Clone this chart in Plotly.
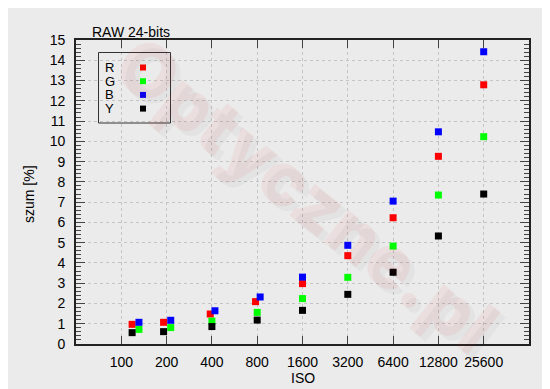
import math
import plotly.graph_objects as go

# ---- data ----
iso_ticks = [100, 200, 400, 800, 1600, 3200, 6400, 12800, 25600]
iso_labels = ["100", "200", "400", "800", "1600", "3200", "6400", "12800", "25600"]

series_names = ["R", "G", "B", "Y"]
series_colors = ["#ff0000", "#00ff00", "#0000ff", "#000000"]

iso_R = [118, 191, 390, 780, 1600, 3200, 6400, 12800, 25600]
iso_G = [131, 213, 400, 800, 1600, 3200, 6400, 12800, 25600]
iso_B = [131, 213, 419, 837, 1600, 3200, 6400, 12800, 25600]
iso_Y = [118, 191, 400, 800, 1600, 3200, 6400, 12800, 25600]

noise_R = [0.97, 1.07, 1.48, 2.09, 2.98, 4.36, 6.23, 9.26, 12.79]
noise_G = [0.72, 0.81, 1.13, 1.56, 2.24, 3.29, 4.83, 7.35, 10.23]
noise_B = [1.07, 1.17, 1.64, 2.32, 3.30, 4.87, 7.05, 10.47, 14.42]
noise_Y = [0.56, 0.61, 0.86, 1.18, 1.66, 2.45, 3.54, 5.33, 7.40]

title_text = "RAW 24-bits"
x_title = "ISO"
y_title = "szum [%]"
watermark = "Optyczne.pl"

xs = [iso_R, iso_G, iso_B, iso_Y]
ys = [noise_R, noise_G, noise_B, noise_Y]

FONT = "Liberation Sans, Arial, Helvetica, sans-serif"
BG = "#ebebeb"
AXC = "#222222"
GRID = "#c4c4c4"

# page body has an 8px margin: shrink figure to compensate
OFF = 8
W, H = 550 - OFF, 389 - OFF
# plot area in window pixels: left 76, right 529, top 40, bottom 344
L, T = 76 - OFF, 40 - OFF
R = 550 - 529
B = 389 - 344
PW, PH = W - L - R, H - T - B


def px2paper(px, py):
    # px, py in window (reference) pixel coordinates
    return (px - OFF - L) / PW, (H - B - (py - OFF)) / PH


fig = go.Figure()
for name, col, x, y in zip(series_names, series_colors, xs, ys):
    fig.add_trace(go.Scatter(
        x=x, y=y, mode="markers", name=name,
        marker=dict(symbol="square", size=7, color=col, line=dict(width=0)),
        showlegend=False,
    ))

annotations = []
shapes = []

# watermark (shadow + main)
for dx, dy, c in [(5, 5, "rgba(0,0,0,0.03)"), (0, 0, "rgba(225,40,40,0.065)")]:
    ax_, ay_ = px2paper(306 + dx, 194 + dy)
    annotations.append(dict(
        text=watermark, x=ax_, y=ay_, xref="paper", yref="paper",
        showarrow=False, textangle=38, xanchor="center", yanchor="middle",
        font=dict(family="Inter, DejaVu Sans, Arial", size=74, color=c, weight=900),
    ))

# title
tx, ty = px2paper(90, 32)
annotations.append(dict(text=title_text, x=tx, y=ty, xref="paper", yref="paper",
                        showarrow=False, xanchor="left", yanchor="middle",
                        font=dict(family=FONT, size=14, color="black")))
# axis titles
ix, iy = px2paper(303, 378)
annotations.append(dict(text=x_title, x=ix, y=iy, xref="paper", yref="paper",
                        showarrow=False, xanchor="center", yanchor="middle",
                        font=dict(family=FONT, size=14, color="black")))
sx, sy = px2paper(29, 194)
annotations.append(dict(text=y_title, x=sx, y=sy, xref="paper", yref="paper",
                        showarrow=False, textangle=-90, xanchor="center", yanchor="middle",
                        font=dict(family=FONT, size=14, color="black")))

# legend box
bx0, by0 = px2paper(98.5, 52.5)
bx1, by1 = px2paper(170.5, 123)
shapes.append(dict(type="rect", xref="paper", yref="paper", x0=bx0, x1=bx1, y0=by1, y1=by0,
                   line=dict(color="#333333", width=1), fillcolor="rgba(0,0,0,0)"))
for i, (name, col) in enumerate(zip(series_names, series_colors)):
    py = 67.5 + i * 13.7
    lx, ly = px2paper(109.5, py)
    annotations.append(dict(text=name, x=lx, y=ly, xref="paper", yref="paper",
                            showarrow=False, xanchor="center", yanchor="middle",
                            font=dict(family=FONT, size=13, color="black")))
    mx, my = px2paper(143, py)
    shapes.append(dict(type="rect", xref="paper", yref="paper",
                       xsizemode="pixel", ysizemode="pixel", xanchor=mx, yanchor=my,
                       x0=-3, x1=3, y0=-3, y1=3, fillcolor=col, line=dict(width=0)))

fig.update_layout(
    width=W, height=H,
    margin=dict(l=L, r=R, t=T, b=B),
    paper_bgcolor=BG, plot_bgcolor=BG,
    font=dict(family=FONT, size=14, color="black"),
    annotations=annotations, shapes=shapes,
    showlegend=False,
)
fig.update_xaxes(
    type="log", range=[math.log10(50), math.log10(51200)],
    tickmode="array", tickvals=iso_ticks, ticktext=iso_labels,
    ticks="inside", ticklen=8, tickwidth=1.3, tickcolor="#444444",
    showline=True, linecolor=AXC, linewidth=1.6, mirror="allticks",
    showgrid=True, gridcolor=GRID, griddash="dot", gridwidth=1,
    zeroline=False, tickfont=dict(size=14, color="black"),
    ticklabelstandoff=4,
)
fig.update_yaxes(
    range=[0, 15], tickmode="linear", tick0=0, dtick=1,
    ticks="inside", ticklen=9, tickwidth=1.3, tickcolor="#444444",
    minor=dict(dtick=0.2, ticks="inside", ticklen=5, tickcolor="#444444", tickwidth=1, showgrid=False),
    showline=True, linecolor=AXC, linewidth=1.6, mirror="allticks",
    showgrid=True, gridcolor=GRID, griddash="dot", gridwidth=1,
    zeroline=False, tickfont=dict(size=14, color="black"),
    ticklabelstandoff=6,
)

fig.write_html("out.html")
